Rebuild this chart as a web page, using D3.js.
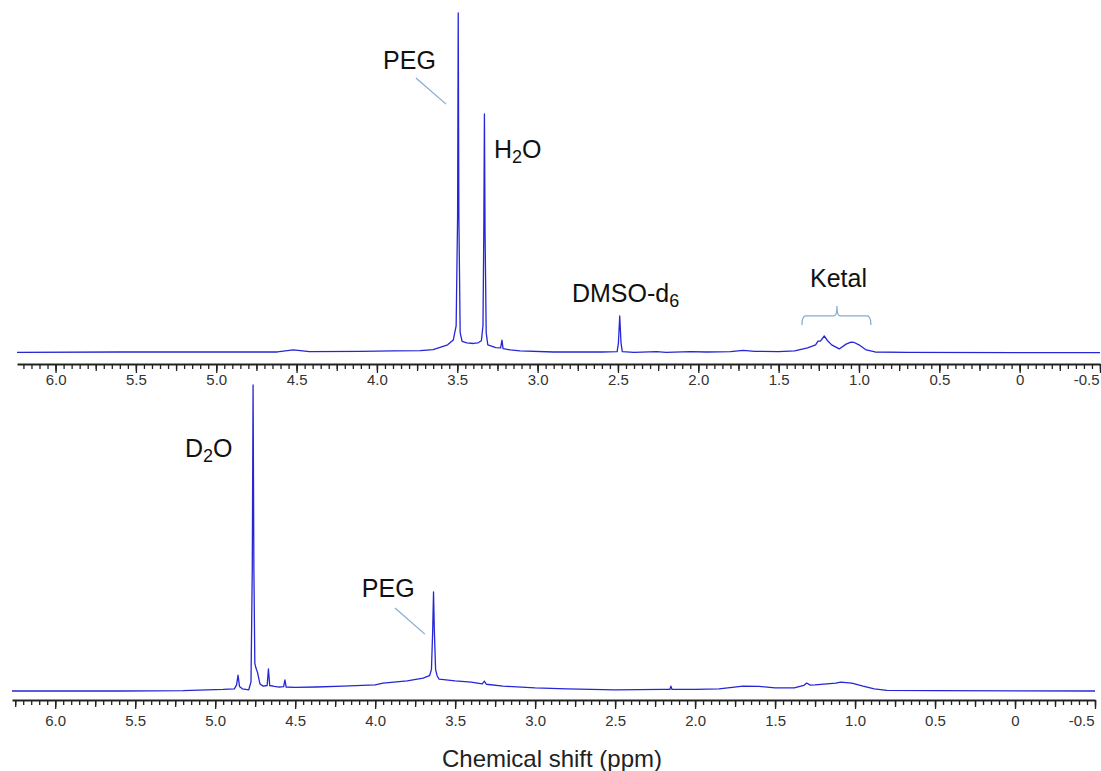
<!DOCTYPE html>
<html>
<head>
<meta charset="utf-8">
<script src="https://cdn.jsdelivr.net/npm/d3@7"></script>
<style>
  body { margin: 0; background: #fff; }
  svg { display: block; font-family: "Liberation Sans", Arial, sans-serif; }
  .spectrum { fill: none; stroke: #2626d6; stroke-width: 1.3; stroke-linejoin: round; }
  .label { fill: #111; font-size: 25px; }
  .sub { font-size: 18px; }
  .leader { stroke: #86a9cf; stroke-width: 1.2; fill: none; }
  .axis .domain { stroke: #222; stroke-width: 2; }
  .axis line { stroke: #222; stroke-width: 1.3; }
  .axis text { fill: #333; font-size: 15px; font-family: "Liberation Sans", Arial, sans-serif; }
</style>
</head>
<body>
<div id="chart"></div>
<script>
// spectrum in DMSO-d6 (top), ppm and relative intensity
var topPpm = [6.24, 5.60, 5.00, 4.62, 4.52, 4.42, 4.10, 3.90, 3.73, 3.65, 3.56, 3.525, 3.507, 3.498, 3.494, 3.490, 3.482, 3.470,
    3.44, 3.40, 3.37, 3.350, 3.340, 3.335, 3.331, 3.327, 3.320, 3.310, 3.26, 3.230, 3.222, 3.215, 3.17, 3.11, 2.90, 2.60,
    2.505, 2.497, 2.489, 2.481, 2.473, 2.40, 2.26, 2.20, 2.05, 1.95, 1.80, 1.72, 1.65, 1.50, 1.40, 1.32, 1.27, 1.255, 1.240,
    1.216, 1.195, 1.17, 1.123, 1.08, 1.050, 1.030, 1.00, 0.955, 0.90, 0.70, 0.00, -0.50];
var topInt = [0.2, 0.3, 0.3, 0.3, 0.9, 0.4, 0.5, 0.6, 0.7, 1.0, 2.4, 3.8, 8, 40, 100, 40, 6, 3.4,
    3.0, 2.8, 3.0, 3.6, 8, 35, 70.3, 35, 6, 2.4, 1.6, 1.5, 3.8, 1.3, 0.9, 0.6, 0.3, 0.3,
    0.4, 3, 10.9, 3, 0.4, 0.2, 0.4, 0.2, 0.4, 0.3, 0.4, 0.8, 0.5, 0.4, 0.6, 1.5, 2.4, 3.5, 3.5,
    5.0, 3.6, 2.4, 1.2, 2.6, 3.2, 3.1, 2.4, 0.9, 0.3, 0.2, 0.1, 0.1];
// spectrum in D2O (bottom)
var bottomPpm = [6.27, 5.60, 5.20, 4.95, 4.88, 4.866, 4.857, 4.848, 4.83, 4.79, 4.776, 4.768, 4.763, 4.758, 4.752, 4.745, 4.735,
    4.72, 4.70, 4.675, 4.667, 4.659, 4.63, 4.60, 4.572, 4.564, 4.556, 4.50, 4.37, 4.20, 4.00, 3.95, 3.80, 3.70, 3.66,
    3.648, 3.640, 3.635, 3.630, 3.622, 3.612, 3.60, 3.50, 3.40, 3.33, 3.317, 3.305, 3.20, 3.00, 2.80, 2.50, 2.20,
    2.158, 2.151, 2.144, 2.00, 1.85, 1.70, 1.60, 1.50, 1.38, 1.32, 1.303, 1.28, 1.25, 1.12, 1.09, 1.02, 0.95, 0.88,
    0.80, 0.50, -0.50];
var bottomInt = [0, 0, 0.1, 0.5, 0.7, 2, 5.2, 1.5, 0.7, 0.4, 3, 40, 100, 40, 9, 7.5, 6,
    2.3, 1.6, 1.8, 7.2, 1.8, 1.5, 1.3, 1.4, 3.6, 1.3, 1.2, 1.3, 1.6, 2.0, 2.6, 3.3, 4.2, 5.0,
    7, 20, 32.4, 20, 7, 4.9, 3.9, 3.3, 2.9, 2.3, 3.2, 2.2, 1.6, 1.0, 0.7, 0.4, 0.5,
    0.5, 1.6, 0.5, 0.5, 0.7, 1.6, 1.5, 1.0, 1.0, 1.8, 2.6, 1.9, 2.0, 2.6, 2.9, 2.6, 1.6, 0.7,
    0.2, 0.1, 0];
// axis ticks
var majorTicks = [6.0, 5.5, 5.0, 4.5, 4.0, 3.5, 3.0, 2.5, 2.0, 1.5, 1.0, 0.5, 0, -0.5];
var tickLabels = ["6.0", "5.5", "5.0", "4.5", "4.0", "3.5", "3.0", "2.5", "2.0", "1.5", "1.0", "0.5", "0", "-0.5"];

var svgWidth = 1101;
var svgHeight = 771;

var svg = d3.select("#chart")
    .append("svg")
    .attr("width", svgWidth)
    .attr("height", svgHeight);

// one panel: spectrum line + ppm axis under it
function drawPanel(ppm, inten, opts) {
    var xScale = d3.scaleLinear().domain(opts.xDomain).range(opts.xRange);
    var yScale = d3.scaleLinear().domain([0, 100]).range([opts.yBase, opts.yTop]);

    var points = ppm.map(function(p, i) { return [p, inten[i]]; });
    var line = d3.line()
        .x(d => xScale(d[0]))
        .y(d => yScale(d[1]));

    svg.append("path")
        .datum(points)
        .attr("class", "spectrum")
        .attr("d", line);

    // minor ticks every 0.05, medium every 0.25, labelled every 0.5
    var minor = d3.range(-10, 126).map(d => d / 20).filter(d => d <= opts.xDomain[0]);
    var medium = d3.range(-2, 26).map(d => d / 4).filter(d => d <= opts.xDomain[0]);

    var axisG = svg.append("g")
        .attr("class", "axis")
        .attr("transform", `translate(0, ${opts.axisY})`);

    axisG.append("g")
        .call(d3.axisBottom(xScale).tickValues(minor).tickSize(5).tickSizeOuter(0).tickFormat(""));
    axisG.append("g")
        .call(d3.axisBottom(xScale).tickValues(medium).tickSize(7).tickSizeOuter(0).tickFormat(""))
        .select(".domain").remove();
    var major = axisG.append("g")
        .call(d3.axisBottom(xScale).tickValues(majorTicks).tickSize(9).tickSizeOuter(0)
            .tickFormat((d, i) => tickLabels[i]));
    major.select(".domain").remove();
    major.selectAll("text")
        .attr("y", opts.labelOffset)
        .attr("dy", "0")
        .filter(d => d === -0.5)
        .attr("text-anchor", "end")
        .attr("x", opts.lastLabelShift);

    return { x: xScale, y: yScale };
}

var topPanel = drawPanel(topPpm, topInt, {
    xDomain: [6.24, -0.5], xRange: [17, 1100],
    yBase: 353, yTop: 13, axisY: 364, labelOffset: 21, lastLabelShift: -1
});
var botPanel = drawPanel(bottomPpm, bottomInt, {
    xDomain: [6.27, -0.5], xRange: [12, 1095],
    yBase: 691, yTop: 385, axisY: 700, labelOffset: 26, lastLabelShift: -1
});

// text label with an optional subscript
function addLabel(sc, ppm, inten, parts) {
    var t = svg.append("text")
        .attr("class", "label")
        .attr("x", sc.x(ppm))
        .attr("y", sc.y(inten));
    parts.forEach(function(p) {
        if (p.sub) {
            t.append("tspan").attr("class", "sub").attr("dy", 5).text(p.text);
        } else {
            t.append("tspan").attr("dy", p.after ? -5 : 0).text(p.text);
        }
    });
    return t;
}

function addLeader(sc, p1, i1, p2, i2) {
    svg.append("line")
        .attr("class", "leader")
        .attr("x1", sc.x(p1)).attr("y1", sc.y(i1))
        .attr("x2", sc.x(p2)).attr("y2", sc.y(i2));
}

// top panel annotations
addLabel(topPanel, 3.962, 83.5, [{ text: "PEG" }]);
addLeader(topPanel, 3.757, 80.9, 3.570, 73.2);
addLabel(topPanel, 3.272, 57.4, [{ text: "H" }, { text: "2", sub: true }, { text: "O", after: true }]);
addLabel(topPanel, 2.786, 15, [{ text: "DMSO-d" }, { text: "6", sub: true }]);
addLabel(topPanel, 1.305, 19.4, [{ text: "Ketal" }]);

// bracket over the ketal signals
var bl = topPanel.x(1.355), br = topPanel.x(0.926), bm = topPanel.x(1.137);
var by = topPanel.y(10.9), bEnd = topPanel.y(8.2), bTip = topPanel.y(13.8);
svg.append("path")
    .attr("class", "leader")
    .attr("d", `M${bl},${bEnd} Q${bl},${by} ${bl + 4},${by} L${bm - 3},${by} Q${bm},${by} ${bm},${bTip}`
        + ` Q${bm},${by} ${bm + 3},${by} L${br - 4},${by} Q${br},${by} ${br},${bEnd}`);

// bottom panel annotations
addLabel(botPanel, 5.189, 76.5, [{ text: "D" }, { text: "2", sub: true }, { text: "O", after: true }]);
addLabel(botPanel, 4.083, 30.7, [{ text: "PEG" }]);
addLeader(botPanel, 3.876, 27.1, 3.689, 18.6);

// x axis title
svg.append("text")
    .attr("x", 552)
    .attr("y", 767)
    .attr("text-anchor", "middle")
    .attr("fill", "#222")
    .style("font-size", "24px")
    .text("Chemical shift (ppm)");
</script>
</body>
</html>
